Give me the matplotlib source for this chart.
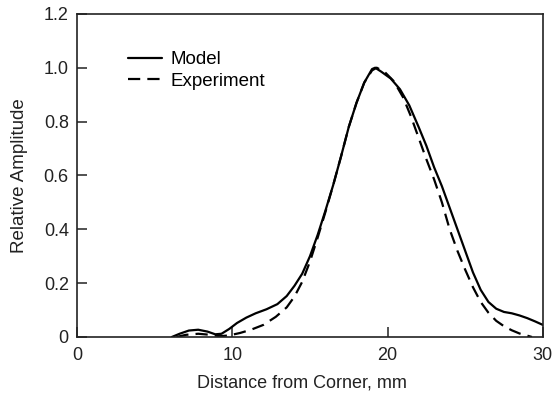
import matplotlib
matplotlib.use('Agg')
import matplotlib.pyplot as plt

plt.rcParams['font.family'] = ['Liberation Sans', 'DejaVu Sans']

# ── data ─────────────────────────────────────────────────────
model_x = [6.1, 6.6, 7.2, 7.8, 8.4, 8.9, 9.3, 9.8, 10.3, 10.9, 11.5, 12.2,
           12.9, 13.5, 14.0, 14.5, 15.0, 15.5, 16.0, 16.5, 17.0, 17.5,
           18.0, 18.5, 19.0, 19.2, 19.6, 20.2, 20.8, 21.4, 22.0, 22.5,
           23.0, 23.5, 24.0, 24.5, 25.0, 25.5, 26.0, 26.5, 27.0, 27.5,
           28.0, 28.5, 29.0, 29.5, 30.0]
model_y = [0.0, 0.012, 0.024, 0.027, 0.02, 0.01, 0.012, 0.03, 0.052, 0.072,
           0.088, 0.103, 0.122, 0.152, 0.19, 0.235, 0.30, 0.38, 0.47, 0.565,
           0.67, 0.78, 0.87, 0.945, 0.995, 1.0, 0.985, 0.96, 0.92, 0.86,
           0.78, 0.71, 0.63, 0.56, 0.48, 0.40, 0.32, 0.24, 0.175, 0.13,
           0.105, 0.093, 0.088, 0.08, 0.07, 0.058, 0.045]

exp_x = [6.4, 7.0, 7.8, 8.6, 9.2, 9.8, 10.5, 11.2, 12.0, 12.8, 13.5, 14.0,
         14.5, 15.0, 15.5, 16.0, 16.5, 17.0, 17.5, 18.0, 18.5, 19.0, 19.3,
         19.8, 20.4, 21.0, 21.5, 22.0, 22.5, 23.0, 23.5, 24.0, 24.5, 25.0,
         25.5, 26.0, 26.5, 27.0, 27.5, 28.0, 28.5, 29.0, 29.3]
exp_y = [0.0, 0.008, 0.012, 0.008, 0.003, 0.006, 0.015, 0.027, 0.045, 0.075,
         0.11, 0.15, 0.205, 0.28, 0.37, 0.465, 0.565, 0.67, 0.78, 0.87,
         0.945, 0.99, 1.0, 0.985, 0.95, 0.89, 0.82, 0.74, 0.66, 0.585,
         0.50, 0.40, 0.32, 0.25, 0.185, 0.13, 0.09, 0.06, 0.04, 0.025,
         0.013, 0.005, 0.0]

x_ticks = [0, 10, 20, 30]
y_ticks = [0, 0.2, 0.4, 0.6, 0.8, 1.0, 1.2]
y_labels = ['0', '0.2', '0.4', '0.6', '0.8', '1.0', '1.2']

# ── figure ───────────────────────────────────────────────────
fig = plt.figure(figsize=(5.55, 3.96), dpi=100)
ax = fig.add_axes([0.139, 0.149, 0.839, 0.816])

ax.plot(model_x, model_y, color='black', lw=1.6, label='Model',
        solid_capstyle='round')
ax.plot(exp_x, exp_y, color='black', lw=1.6, dashes=(5.5, 3.2),
        label='Experiment')

ax.set_xlim(0, 30)
ax.set_ylim(0, 1.2)
ax.set_xticks(x_ticks)
ax.set_yticks(y_ticks)
ax.set_yticklabels(y_labels)
ax.tick_params(direction='in', length=7, width=1.1, labelsize=13,
               top=False, right=False, colors='#222222')
ax.tick_params(axis='x', pad=7)
ax.tick_params(axis='y', pad=6)
for s in ax.spines.values():
    s.set_linewidth(1.2)
    s.set_color('#222222')

ax.set_xlabel('Distance from Corner, mm', fontsize=13, color='#222222')
ax.xaxis.set_label_coords(0.482, -0.115)
ax.set_ylabel('Relative Amplitude', fontsize=13.5, color='#222222',
              labelpad=11)

ax.legend(loc='upper left', bbox_to_anchor=(0.11, 0.885), frameon=False,
          fontsize=13.5, handlelength=1.8, handletextpad=0.45,
          labelspacing=0.25, borderpad=0, borderaxespad=0)

fig.savefig('out.png', dpi=100, facecolor='white')
